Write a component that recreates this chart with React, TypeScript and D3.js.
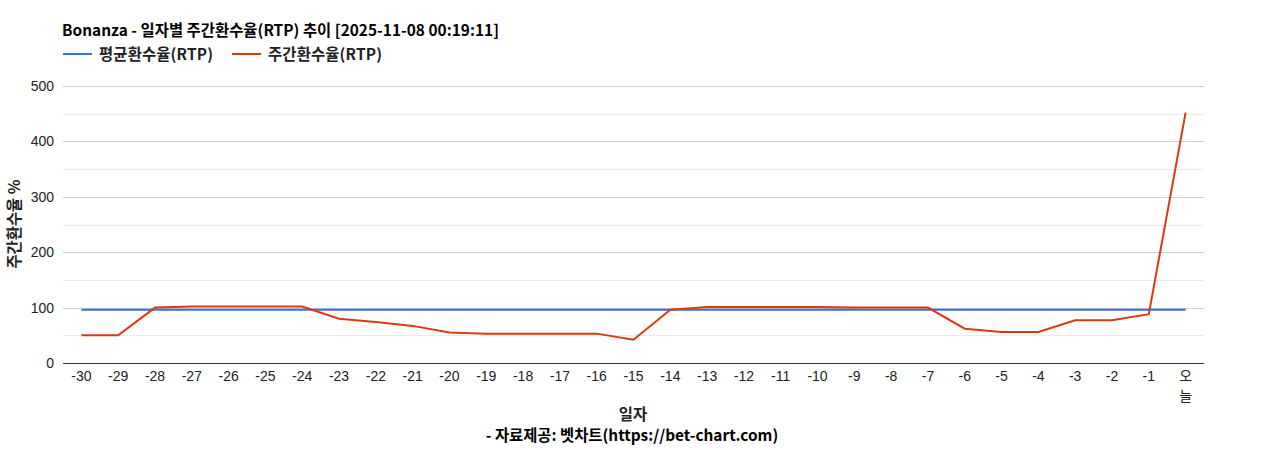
import { useEffect, useRef } from "react";
import * as d3 from "d3";

const days = [
  "-30", "-29", "-28", "-27", "-26", "-25", "-24", "-23", "-22", "-21",
  "-20", "-19", "-18", "-17", "-16", "-15", "-14", "-13", "-12", "-11",
  "-10", "-9", "-8", "-7", "-6", "-5", "-4", "-3", "-2", "-1", "오늘",
];
const avgRtp = [
  96, 96, 96, 96, 96, 96, 96, 96, 96, 96, 96, 96, 96, 96, 96, 96, 96, 96,
  96, 96, 96, 96, 96, 96, 96, 96, 96, 96, 96, 96, 96,
];
const weeklyRtp = [
  50, 50, 100, 102, 102, 102, 102, 80, 74, 67, 55, 53, 53, 53, 53, 42, 96,
  101, 101, 101, 101, 100, 100, 100, 62, 56, 56, 77, 77, 88, 452,
];
const yTicks = [0, 100, 200, 300, 400, 500];
const yMinor = [50, 150, 250, 350, 450];

const BLUE = "#3b6fd6";
const RED = "#dc3912";
const KR = "'Noto Sans CJK KR', 'Noto Sans', sans-serif";
const LAT = "'Liberation Sans', Arial, sans-serif";

export default function App() {
  const svgRef = useRef<SVGSVGElement>(null);

  useEffect(() => {
    document.body.style.margin = "0";
    if (!svgRef.current) return;
    const svg = d3.select(svgRef.current);
    svg.selectAll("*").remove();

    const width = 1268;
    const height = 450;
    const left = 63;
    const right = 1204;
    const top = 86;
    const bottom = 363;

    svg.attr("width", width).attr("height", height);

    const x = d3.scalePoint<string>().domain(days).range([left, right]).padding(0.5);
    const y = d3.scaleLinear().domain([0, 500]).range([bottom, top]);

    // Grid
    svg.append("g")
      .selectAll("line")
      .data(yMinor)
      .join("line")
      .attr("x1", left)
      .attr("x2", right)
      .attr("y1", (d) => Math.round(y(d)) + 0.5)
      .attr("y2", (d) => Math.round(y(d)) + 0.5)
      .attr("stroke", "#ebebeb");
    svg.append("g")
      .selectAll("line")
      .data(yTicks.slice(1))
      .join("line")
      .attr("x1", left)
      .attr("x2", right)
      .attr("y1", (d) => Math.round(y(d)) + 0.5)
      .attr("y2", (d) => Math.round(y(d)) + 0.5)
      .attr("stroke", "#cccccc");

    // Y labels
    svg.append("g")
      .selectAll("text")
      .data(yTicks)
      .join("text")
      .attr("x", 54)
      .attr("y", (d) => y(d) + 5)
      .attr("text-anchor", "end")
      .style("font-family", LAT)
      .style("font-size", "14px")
      .style("fill", "#222")
      .text((d) => d);

    // X labels
    const xl = svg.append("g")
      .selectAll("text")
      .data(days)
      .join("text")
      .attr("x", (d) => x(d)!)
      .attr("y", 381)
      .attr("text-anchor", "middle")
      .style("font-family", (d) => (d.startsWith("-") ? LAT : KR))
      .style("font-size", "14px")
      .style("fill", "#222");
    xl.each(function (d) {
      const t = d3.select(this);
      if (d.startsWith("-")) {
        t.text(d);
      } else {
        d.split("").forEach((c, i) => {
          t.append("tspan")
            .attr("x", x(d)!)
            .attr("dy", i === 0 ? 0 : 20)
            .text(c);
        });
      }
    });

    // Lines
    const line = d3
      .line<number>()
      .x((_, i) => x(days[i])!)
      .y((d) => y(d));

    svg.append("path")
      .datum(avgRtp)
      .attr("d", line)
      .attr("fill", "none")
      .attr("stroke", BLUE)
      .attr("stroke-width", 2);
    svg.append("path")
      .datum(weeklyRtp)
      .attr("d", line)
      .attr("fill", "none")
      .attr("stroke", RED)
      .attr("stroke-width", 2);

    // Baseline
    svg.append("line")
      .attr("x1", left)
      .attr("x2", right)
      .attr("y1", bottom + 0.5)
      .attr("y2", bottom + 0.5)
      .attr("stroke", "#333");

    // Title
    svg.append("text")
      .attr("x", 62)
      .attr("y", 36)
      .attr("textLength", 437)
      .style("font-family", KR)
      .style("font-size", "15.4px")
      .style("font-weight", "bold")
      .style("fill", "#000")
      .text("Bonanza - 일자별 주간환수율(RTP) 추이 [2025-11-08 00:19:11]");

    // Legend
    const legend = [
      { name: "평균환수율(RTP)", color: BLUE, x: 63 },
      { name: "주간환수율(RTP)", color: RED, x: 232 },
    ];
    const lg = svg.append("g")
      .selectAll("g")
      .data(legend)
      .join("g")
      .attr("transform", (d) => `translate(${d.x},54)`);
    lg.append("line")
      .attr("x1", 0)
      .attr("x2", 29)
      .attr("stroke", (d) => d.color)
      .attr("stroke-width", 2);
    lg.append("text")
      .attr("x", 36)
      .attr("y", 6)
      .attr("textLength", 114)
      .style("font-family", KR)
      .style("font-size", "15.4px")
      .style("font-weight", "bold")
      .style("fill", "#222")
      .text((d) => d.name);

    // Axis titles
    svg.append("text")
      .attr("transform", "translate(20,224) rotate(-90)")
      .attr("text-anchor", "middle")
      .style("font-family", KR)
      .style("font-size", "15.4px")
      .style("font-weight", "bold")
      .style("fill", "#222")
      .text("주간환수율 %");
    svg.append("text")
      .attr("x", 633)
      .attr("y", 420)
      .attr("text-anchor", "middle")
      .style("font-family", KR)
      .style("font-size", "15.4px")
      .style("font-weight", "bold")
      .style("fill", "#222")
      .text("일자");
    svg.append("text")
      .attr("x", 632)
      .attr("y", 441)
      .attr("text-anchor", "middle")
      .style("font-family", KR)
      .style("font-size", "15.4px")
      .style("font-weight", "bold")
      .style("fill", "#000")
      .text("- 자료제공: 벳차트(https://bet-chart.com)");
  }, []);

  return <svg ref={svgRef} style={{ display: "block" }} />;
}
